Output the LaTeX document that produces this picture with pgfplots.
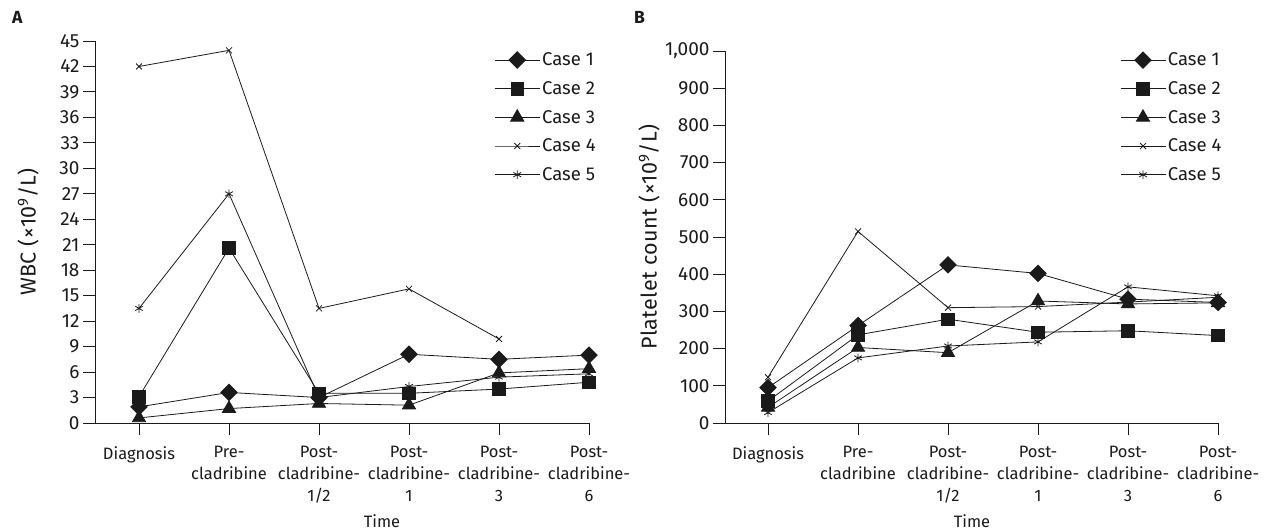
\documentclass[border=0pt]{standalone}
\usepackage{fontspec}
\setmainfont{Fira Sans}
\usepackage{pgfplots}
\pgfplotsset{compat=1.18}
\definecolor{ink}{HTML}{1A1A1A}

\pgfplotsset{
  panel/.style={
    scale only axis,
    anchor=south west,
    axis x line*=bottom,
    axis y line*=left,
    axis line style={ink, line width=0.9pt},
    tick style={ink, line width=0.9pt},
    tick align=outside,
    major tick length=12pt,
    xtick={0,...,5},
    xticklabels={Diagnosis, {Pre-\\cladribine}, {Post-\\cladribine-\\1/2},
      {Post-\\cladribine-\\1}, {Post-\\cladribine-\\3}, {Post-\\cladribine-\\6}},
    xticklabel style={align=center, font=\fontsize{16.5}{22}\selectfont, text=ink, yshift=-8pt},
    yticklabel style={font=\fontsize{19}{20}\selectfont, text=ink},
    /pgf/number format/assume math mode=true,
    xmax=5, ymin=0,
    xlabel={Time},
    xlabel style={font=\fontsize{16.5}{20}\selectfont, text=ink, anchor=north, inner sep=0pt},
    ylabel style={font=\fontsize{21.5}{22}\selectfont\addfontfeature{LetterSpace=2}, text=ink, anchor=center},
    legend style={draw=none, fill=none, anchor=north west, inner sep=0pt,
      font=\fontsize{18.5}{20}\selectfont, row sep=10.2pt, text=ink,
      cells={anchor=west}},
    legend image code/.code={\draw[mark repeat=2, mark phase=2, ##1]
      plot coordinates {(0pt,0pt) (22.5pt,0pt) (45pt,0pt)};},
    every axis plot/.append style={ink, line width=0.8pt},
    clip=false,
  },
  c1/.style={mark=square*, mark size=5.8pt, mark options={rotate=45, fill=ink, solid}},
  c2/.style={mark=square*, mark size=6.3pt, mark options={fill=ink, solid}},
  c3/.style={mark=triangle*, mark size=7.6pt, mark options={fill=ink, solid}},
  c4/.style={mark=x, mark size=4.2pt, mark options={solid}},
  c5/.style={mark=asterisk, mark size=4.4pt, mark options={solid}},
}

\begin{document}
\begin{tikzpicture}
\path[use as bounding box] (0pt,0pt) rectangle (1266pt,-532pt);

\node[anchor=north west, inner sep=0pt, font=\fontsize{17.5}{18}\selectfont\bfseries, text=ink]
  at (12pt,-11pt) {A};
\node[anchor=north west, inner sep=0pt, font=\fontsize{17.5}{18}\selectfont\bfseries, text=ink]
  at (634pt,-11pt) {B};

% Panel A: WBC
\begin{axis}[panel,
  at={(95pt,-423pt)},
  width=494pt, height=382pt,
  xmin=-0.489, ymax=45,
  ytick={0,3,...,45},
  ylabel={WBC (×10\textsuperscript{9}/L)},
  ylabel style={at={(axis description cs:-0.1356,0.5)}},
  xlabel style={at={(axis description cs:0.581,0)}, yshift=-91pt},
  legend style={at={(axis description cs:0.808,0.975)}},
]
\addplot[c1] coordinates {(0,1.9) (1,3.6) (2,3.0) (3,8.1) (4,7.5) (5,8.0)};
\addplot[c2] coordinates {(0,3.1) (1,20.6) (2,3.5) (3,3.5) (4,4.0) (5,4.8)};
\addplot[c3] coordinates {(0,0.6) (1,1.7) (2,2.3) (3,2.1) (4,5.9) (5,6.4)};
\addplot[c4] coordinates {(0,42.0) (1,43.9) (2,13.5) (3,15.8) (4,9.9)};
\addplot[c5] coordinates {(0,13.5) (1,27.0) (2,3.0) (3,4.3) (4,5.4) (5,5.8)};
\legend{Case 1, Case 2, Case 3, Case 4, Case 5}
\end{axis}

% Panel B: platelets
\begin{axis}[panel,
  at={(725pt,-423pt)},
  width=493pt, height=372pt,
  xmin=-0.478, ymax=1000,
  ytick={0,100,...,1000},
  /pgf/number format/1000 sep={,},
  ylabel={Platelet count (×10\textsuperscript{9}/L)},
  ylabel style={at={(axis description cs:-0.154,0.5)}},
  xlabel style={at={(axis description cs:0.501,0)}, yshift=-91pt},
  legend style={at={(axis description cs:0.801,1.001)}},
]
\addplot[c1] coordinates {(0,95) (1,262) (2,425) (3,402) (4,333) (5,324)};
\addplot[c2] coordinates {(0,59) (1,237) (2,279) (3,244) (4,248) (5,235)};
\addplot[c3] coordinates {(0,42) (1,203) (2,189) (3,328) (4,320) (5,323)};
\addplot[c4] coordinates {(0,123) (1,515) (2,310) (3,313) (4,325) (5,338)};
\addplot[c5] coordinates {(0,28) (1,175) (2,207) (3,218) (4,366) (5,342)};
\legend{Case 1, Case 2, Case 3, Case 4, Case 5}
\end{axis}
\end{tikzpicture}
\end{document}
